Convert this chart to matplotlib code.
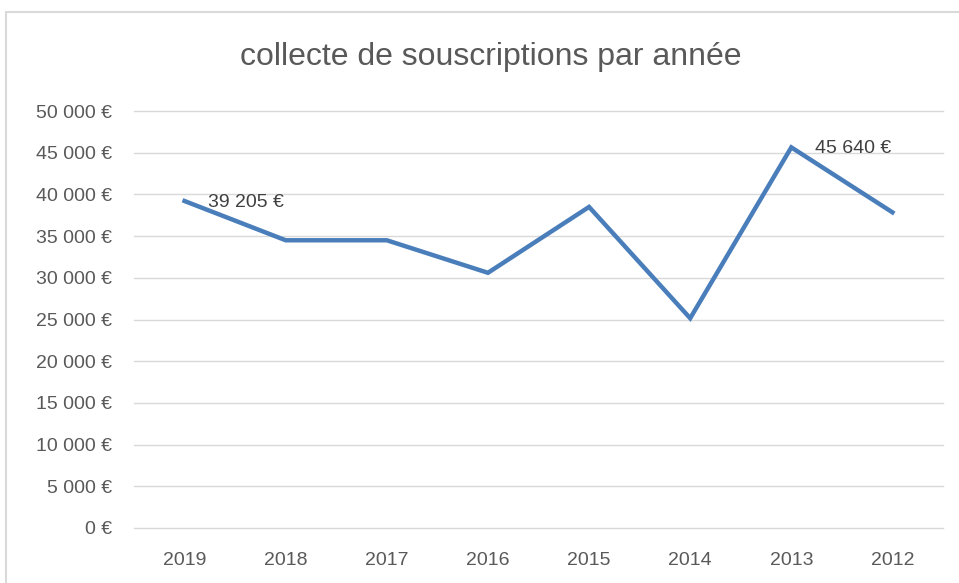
import matplotlib
matplotlib.use('Agg')
import matplotlib.pyplot as plt
from matplotlib.patches import Rectangle

# données
annees = ['2019', '2018', '2017', '2016', '2015', '2014', '2013', '2012']
collecte = [39205, 34500, 34500, 30600, 38500, 25150, 45640, 37850]
etiquettes = {0: '39 205 €', 6: '45 640 €'}
graduations = list(range(0, 50001, 5000))

plt.rcParams['font.family'] = ['Liberation Sans', 'DejaVu Sans']

gris = '#595959'
bleu = '#4a7ebb'

fig = plt.figure(figsize=(9.59, 5.83), dpi=100)
ax = fig.add_axes([134 / 959, 1 - 528 / 583, (943 - 134) / 959, (528 - 111) / 583])

# cadre du graphique
fig.patches.append(Rectangle((6 / 959, -0.2), 1.2, 1.2 - 12 / 583, transform=fig.transFigure,
                             fill=False, edgecolor='#d9d9d9', linewidth=1.5))

x = list(range(len(annees)))
ax.plot(x, collecte, color=bleu, linewidth=3.2, solid_joinstyle='miter', zorder=3)

for i, txt in etiquettes.items():
    ax.annotate(txt, (x[i], collecte[i]), xytext=(17, -1), textcoords='offset points',
                va='center', ha='left', fontsize=14, color='#404040')

ax.set_xlim(-0.5, len(annees) - 0.5)
ax.set_ylim(0, 50000)
ax.set_xticks(x)
ax.set_xticklabels(annees)
ax.set_yticks(graduations)
ax.set_yticklabels([(f'{v:,}'.replace(',', ' ') + ' €') for v in graduations])
ax.grid(axis='y', color='#d9d9d9', linewidth=1)
for ligne in ax.get_ygridlines():
    ligne.set_clip_on(False)
ax.set_axisbelow(True)
for s in ax.spines.values():
    s.set_visible(False)
ax.tick_params(length=0, labelsize=14, colors=gris)
ax.tick_params(axis='y', pad=16)
ax.tick_params(axis='x', pad=17)

fig.text(491 / 959, 1 - 57 / 583, 'collecte de souscriptions par année', ha='center', va='center',
         fontsize=23, color=gris)

fig.savefig('out.png', dpi=100)
